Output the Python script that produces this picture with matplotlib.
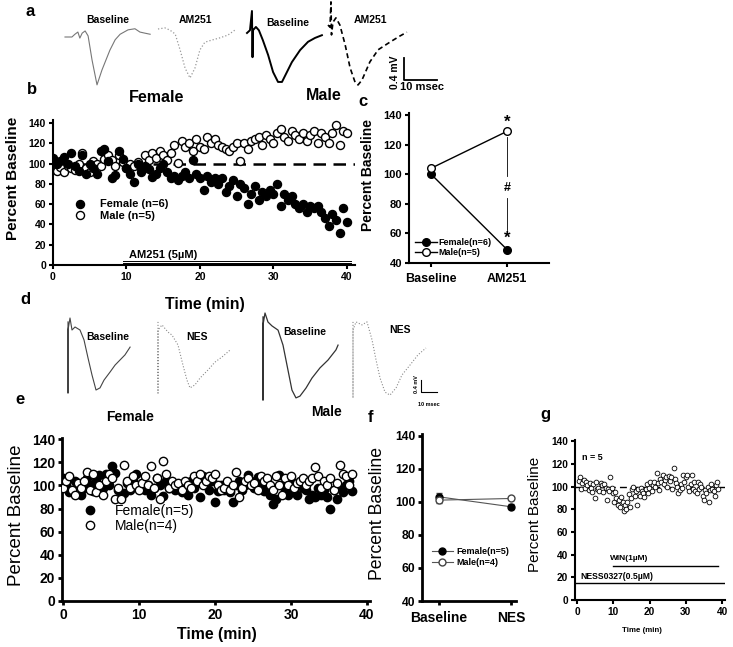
import numpy as np
import matplotlib
matplotlib.use('Agg')
import matplotlib.pyplot as plt

plt.rcParams['font.family'] = ['Liberation Sans', 'DejaVu Sans']

W, H = 733, 647

# ---- panel b : AM251, time course (every 0.5 min) ----
b_female = [106, 100, 103, 107, 100, 110, 98, 93, 108, 90, 100, 96, 90, 112, 114, 103, 86, 89,
            112, 105, 96, 90, 82, 100, 92, 98, 95, 87, 90, 96, 100, 92, 86, 88, 84, 88, 92, 86,
            104, 90, 86, 74, 88, 82, 86, 80, 86, 72, 78, 84, 68, 80, 76, 60, 70, 78, 64, 72, 68,
            74, 70, 80, 58, 70, 64, 68, 60, 56, 60, 52, 58, 56, 58, 52, 46, 38, 50, 44, 32, 56, 42]
b_male = [95, 93, 97, 92, 98, 96, 94, 100, 110, 96, 92, 103, 100, 98, 105, 108, 104, 98, 108,
          102, 96, 100, 98, 102, 96, 108, 104, 110, 106, 112, 108, 104, 110, 118, 101, 122, 116,
          120, 112, 124, 116, 114, 126, 120, 124, 118, 116, 114, 112, 116, 120, 103, 120, 114,
          122, 124, 126, 118, 128, 124, 120, 130, 134, 126, 122, 132, 128, 124, 130, 122, 128,
          132, 120, 130, 126, 120, 130, 138, 118, 132, 130]

# ---- panel c : summary ----
c_groups = ['Baseline', 'AM251']
c_female = [100, 49]
c_male = [104, 129]
c_err_f = [1.5, 1.5]
c_err_m = [1.5, 1.5]

# ---- panel e : NESS0327 time course (every 0.4 min) ----
e_female = [106, 100, 94, 96, 104, 100, 92, 98, 106, 100, 95, 104, 109, 98, 110, 100, 117, 111,
            96, 90, 93, 102, 96, 105, 110, 98, 102, 96, 100, 92, 98, 106, 100, 91, 104, 98, 102,
            96, 101, 94, 100, 92, 104, 98, 102, 90, 108, 100, 96, 104, 86, 95, 100, 96, 102, 94,
            86, 100, 104, 96, 100, 109, 104, 98, 107, 100, 95, 104, 92, 84, 88, 109, 100, 96, 92,
            104, 96, 92, 102, 98, 96, 88, 92, 90, 98, 92, 96, 90, 80, 96, 88, 98, 94, 100, 104, 95]
e_male = [98, 104, 108, 96, 92, 102, 98, 104, 112, 96, 110, 94, 100, 92, 104, 110, 106, 88, 98,
          88, 118, 104, 98, 108, 100, 96, 102, 108, 100, 117, 98, 106, 88, 121, 110, 98, 104, 100,
          102, 96, 104, 100, 98, 108, 104, 110, 100, 104, 108, 106, 110, 100, 96, 98, 104, 96, 100,
          112, 90, 98, 104, 106, 100, 102, 96, 108, 104, 106, 100, 96, 108, 100, 92, 106, 100, 108,
          98, 102, 104, 106, 100, 104, 106, 116, 108, 98, 104, 100, 106, 96, 102, 118, 110, 108,
          100, 110]

# ---- panel f : summary ----
f_groups = ['Baseline', 'NES']
f_female = [103, 97]
f_male = [101, 102]
f_err_f = [2.5, 1.5]
f_err_m = [2.0, 1.0]

# ---- panel g : WIN + NESS0327 (every ~1/3 min) ----
g_values = [105, 108, 98, 103, 106, 99, 104, 101, 97, 103, 99, 95, 102, 90, 104, 98, 99, 96,
            103, 101, 95, 102, 99, 88, 98, 96, 108, 99, 94, 86, 95, 90, 84, 88, 82, 91, 86, 78,
            84, 80, 86, 93, 82, 90, 98, 100, 92, 96, 84, 98, 92, 99, 96, 94, 91, 98, 102, 94, 99,
            104, 96, 101, 104, 100, 112, 103, 97, 107, 104, 110, 102, 106, 108, 100, 109, 105,
            108, 98, 116, 107, 103, 100, 94, 97, 102, 99, 110, 104, 108, 110, 100, 96, 102, 110,
            98, 104, 96, 94, 104, 98, 102, 100, 92, 88, 97, 94, 100, 86, 97, 102, 98, 96, 92, 101,
            104, 98]

# ---- traces (ms, mV) ----
a_fb_t = [0, 2.1, 3.0, 3.9, 4.5, 5.2, 6.1, 7.0, 8.2, 9.7, 11.2, 13.6, 15.2, 16.7, 19.1, 21.2, 22.7, 24.2, 25.8]
a_fb_v = [0, 0, 0.05, 0.09, -0.02, 0.07, 0.11, 0.02, -0.42, -0.87, -0.6, -0.24, -0.05, 0.05, 0.13, 0.15, 0.09, 0.07, 0.05]
a_fa_t = [0, 2.1, 3.6, 5.2, 6.7, 8.2, 9.7, 11.2, 12.7, 14.2, 16.4, 18.8, 21.2, 23.3]
a_fa_v = [0, 0.02, -0.02, -0.09, -0.38, -0.71, -0.89, -0.71, -0.38, -0.24, -0.2, -0.16, -0.11, -0.02]
a_mb_t = [0, 0.9, 1.5, 1.67, 1.8, 2.7, 3.6, 4.8, 6.4, 7.9, 9.4, 10.6, 12.1, 13.6, 16.1, 18.5, 20.6, 22.7]
a_mb_v = [0, 0.05, 0.4, -0.44, 0.05, 0.11, 0.05, -0.13, -0.4, -0.71, -0.89, -0.89, -0.71, -0.53, -0.31, -0.16, -0.09, -0.04]
a_ma_t = [0, 0.6, 0.9, 1.06, 1.5, 2.4, 3.6, 5.2, 6.7, 8.2, 9.1, 10.3, 12.7, 15.2, 18.8, 21.8, 23.9]
a_ma_v = [0, -0.04, 0.42, -0.18, 0.05, 0.13, 0, -0.36, -0.78, -1.04, -1.09, -1.0, -0.67, -0.45, -0.31, -0.2, -0.13]

d_fb_t = [0, 0, 0, 1.25, 2.5, 4.4, 7.5, 10, 12.5, 15, 17.5, 20, 22.5, 26.3, 29.4, 32.5, 35.6, 38.8]
d_fb_v = [0.27, -2.1, 0, 0.4, 0, 0.1, 0, -0.33, -0.93, -1.5, -2.0, -1.93, -1.67, -1.4, -1.17, -1.0, -0.83, -0.57]
d_fn_t = [0, 0, 0, 2.5, 6.25, 8.75, 12.5, 15.6, 18.1, 20, 23.1, 26.3, 31.3, 35.6, 40, 45]
d_fn_v = [0.27, -2.1, 0, 0.17, -0.07, -0.17, -0.5, -1.17, -1.67, -1.93, -1.83, -1.6, -1.33, -1.07, -0.9, -0.67]
d_mb_t = [0, 0, 0, 1.25, 3.1, 5.6, 9.4, 12.5, 15.6, 18.1, 20.6, 23.1, 26.9, 30.6, 35.6, 40.6, 45.6, 46.9]
d_mb_v = [0.27, -2.5, 0, 0.4, 0.1, -0.03, -0.17, -0.67, -1.5, -2.17, -2.43, -2.37, -2.1, -1.77, -1.43, -1.17, -0.83, -0.67]
d_mn_t = [0, 0, 0, 1.9, 5.6, 8.75, 11.9, 14.4, 16.9, 20, 23.1, 26.9, 30.6, 35.6, 40.6, 45.6]
d_mn_v = [0.27, -2.27, 0, 0.27, 0.17, 0.27, -0.33, -1.0, -1.6, -2.07, -2.17, -1.93, -1.5, -1.17, -0.83, -0.6]
scale_ms, scale_mv = 10, 0.4

fig = plt.figure(figsize=(W / 100, H / 100), dpi=100)


def rect(x0, y0, x1, y1):
    return [x0 / W, 1 - y1 / H, (x1 - x0) / W, (y1 - y0) / H]


def ftext(x, y, s, size, bold=True, **kw):
    fig.text(x / W, 1 - y / H, s, fontsize=size, fontweight='bold' if bold else 'normal',
             ha=kw.pop('ha', 'center'), va=kw.pop('va', 'center'), **kw)


def trace(x0, y0, t, v, sx, sy, **kw):
    pad = 3
    t = np.asarray(t); v = np.asarray(v)
    ax = fig.add_axes(rect(x0 - pad, y0 - v.max() * sy - pad, x0 + t.max() * sx + pad, y0 - v.min() * sy + pad))
    ax.set_xlim(-pad / sx, t.max() + pad / sx)
    ax.set_ylim(v.min() - pad / sy, v.max() + pad / sy)
    ax.axis('off')
    ax.plot(t, v, **kw)
    return ax


def scalebar(x0, y0, sx, sy, lw):
    ax = fig.add_axes(rect(x0 - 2, y0 - scale_mv * sy - 2, x0 + scale_ms * sx + 2, y0 + 2))
    ax.set_xlim(-2 / sx, scale_ms + 2 / sx)
    ax.set_ylim(-2 / sy, scale_mv + 2 / sy)
    ax.axis('off')
    ax.plot([0, 0, scale_ms], [scale_mv, 0, 0], color='black', lw=lw)


def style(ax, lw, size):
    for s in ['top', 'right']:
        ax.spines[s].set_visible(False)
    for s in ['left', 'bottom']:
        ax.spines[s].set_linewidth(lw)
    ax.tick_params(direction='out', length=3, width=lw, labelsize=size, pad=2)
    for lab in ax.get_xticklabels() + ax.get_yticklabels():
        lab.set_fontweight('bold')


# ---------------- panel a traces ----------------
sxa, sya = 3.3, 55
trace(65, 37, a_fb_t, a_fb_v, sxa, sya, color='#777777', lw=0.8)
trace(158, 29, a_fa_t, a_fa_v, sxa, sya, color='#999999', lw=0.9, ls=':')
trace(247, 33, a_mb_t, a_mb_v, sxa, sya, color='black', lw=1.4)
trace(328, 25, a_ma_t, a_ma_v, sxa, sya, color='black', lw=1.2, ls=(0, (3, 2)))
scalebar(404, 80, sxa, sya, 1.3)
ftext(108, 20, 'Baseline', 7.5)
ftext(195, 20, 'AM251', 7.5)
ftext(288, 23, 'Baseline', 7.5)
ftext(370, 20, 'AM251', 7.5)
ftext(395, 72, '0.4 mV', 7.5, rotation=90)
ftext(422, 87, '10 msec', 8)
ftext(30, 12, 'a', 12)

# ---------------- panel b ----------------
axb = fig.add_axes(rect(53, 120, 355, 265))
tb = np.arange(len(b_female)) * 0.5
axb.axhline(100, xmin=0, xmax=1, color='black', lw=1.8, ls=(0, (5, 3)), zorder=1)
axb.plot(tb, b_female, 'o', ms=5.8, mfc='black', mec='black', mew=1, label='Female (n=6)', zorder=3)
axb.plot(tb, b_male, 'o', ms=5.8, mfc='white', mec='black', mew=1, label='Male (n=5)', zorder=2)
axb.plot([9.5, 40.5], [2.3, 2.3], color='black', lw=0.7)
axb.plot([9.5, 40.5], [4.0, 4.0], color='black', lw=0.7)
axb.text(15, 10, 'AM251 (5\u00b5M)', fontsize=8, fontweight='bold', ha='center', va='center')
axb.set_xlim(0, 41.1)
axb.set_ylim(0, 143)
axb.set_xticks([0, 10, 20, 30, 40])
axb.set_yticks(range(0, 141, 20))
style(axb, 1.5, 7.5)
axb.legend(loc='center left', bbox_to_anchor=(0.071, 0.379), frameon=False, borderpad=0,
           borderaxespad=0, handlelength=1.0, handletextpad=1.3, labelspacing=0.1,
           prop={'size': 8, 'weight': 'bold'})
ftext(32, 90, 'b', 12)
ftext(157, 98, 'Female', 11.5)
ftext(324, 95, 'Male', 11.5)
ftext(13, 178, 'Percent Baseline', 11, rotation=90)
ftext(205, 305, 'Time (min)', 11.4)

# ---------------- panel c ----------------
axc = fig.add_axes(rect(409, 113.5, 549, 263))
xc = np.arange(len(c_groups))
axc.errorbar(xc, c_female, yerr=c_err_f, fmt='none', ecolor='black', lw=0.8, capsize=1.5)
axc.errorbar(xc, c_male, yerr=c_err_m, fmt='none', ecolor='black', lw=0.8, capsize=1.5)
axc.plot(xc, c_female, '-o', color='black', lw=1, ms=5.5, mfc='black', label='Female(n=6)', zorder=3)
axc.plot(xc, c_male, '-o', color='black', lw=1, ms=5.5, mfc='white', label='Male(n=5)', zorder=3)
axc.plot([1, 1], [125, 99], color='black', lw=0.6)
axc.plot([1, 1], [84, 62], color='black', lw=0.6)
axc.text(1, 135, '*', fontsize=12, fontweight='bold', ha='center', va='center')
axc.text(1, 57, '*', fontsize=12, fontweight='bold', ha='center', va='center')
axc.text(1, 91, '#', fontsize=9, fontweight='bold', ha='center', va='center')
axc.set_xlim(-0.29, 1.55)
axc.set_ylim(40, 141)
axc.set_xticks(xc)
axc.set_xticklabels(c_groups)
axc.set_yticks(range(40, 141, 20))
style(axc, 1.5, 8)
for lab in axc.get_xticklabels():
    lab.set_fontsize(9)
axc.tick_params(axis='x', pad=4)
axc.legend(loc='center left', bbox_to_anchor=(0.043, 0.104), frameon=False, borderpad=0,
           borderaxespad=0, handlelength=2.4, handletextpad=0.2, labelspacing=0.07,
           prop={'size': 6.5, 'weight': 'bold'})
ftext(363, 101, 'c', 12)
ftext(368, 175, 'Percent Baseline', 10, rotation=90)

# ---------------- panel d traces ----------------
sxd, syd = 1.6, 30
trace(68, 330, d_fb_t, d_fb_v, sxd, syd, color='#444444', lw=0.8)
trace(158, 330, d_fn_t, d_fn_v, sxd, syd, color='#8a8a8a', lw=0.8, ls=':')
trace(263, 325, d_mb_t, d_mb_v, sxd, syd, color='#333333', lw=0.9)
trace(353, 330, d_mn_t, d_mn_v, sxd, syd, color='#8a8a8a', lw=0.8, ls=':')
scalebar(421, 392, sxd, syd, 0.8)
ftext(108, 337, 'Baseline', 7.5)
ftext(197, 337, 'NES', 7.5)
ftext(305, 332, 'Baseline', 7.5)
ftext(400, 330, 'NES', 7.5)
ftext(417, 384, '0.4 mV', 4, rotation=90)
ftext(429, 405, '10 msec', 4)
ftext(25, 300, 'd', 12)

# ---------------- panel e ----------------
axe = fig.add_axes(rect(62, 438, 370, 601))
te_f = np.linspace(0, 38, len(e_female))
te_m = np.linspace(0, 38, len(e_male))
axe.plot(te_f, e_female, 'o', ms=6, mfc='black', mec='black', mew=1, label='Female(n=5)', zorder=2)
axe.plot(te_m, e_male, 'o', ms=6, mfc='white', mec='black', mew=1, label='Male(n=4)', zorder=3)
axe.set_xlim(-0.13, 40.4)
axe.set_ylim(0, 141)
axe.set_xticks([0, 10, 20, 30, 40])
axe.set_yticks(range(0, 141, 20))
style(axe, 2, 10)
axe.legend(loc='center left', bbox_to_anchor=(0.068, 0.506), frameon=False, borderpad=0,
           borderaxespad=0, handlelength=1.0, handletextpad=1.3, labelspacing=0.07,
           prop={'size': 10})
ftext(20, 400, 'e', 12)
ftext(130, 417, 'Female', 10)
ftext(327, 412, 'Male', 10)
ftext(17, 515, 'Percent Baseline', 13.5, bold=False, rotation=90)
ftext(217, 634, 'Time (min)', 11.4)

# ---------------- panel f ----------------
axf = fig.add_axes(rect(422, 434, 516, 601))
xf = np.arange(len(f_groups))
axf.errorbar(xf, f_female, yerr=f_err_f, fmt='none', ecolor='#444444', lw=0.8, capsize=2)
axf.errorbar(xf, f_male, yerr=f_err_m, fmt='none', ecolor='#444444', lw=0.8, capsize=2)
axf.plot(xf, f_female, '-o', color='#555555', lw=0.8, ms=5, mfc='black', mec='black', label='Female(n=5)', zorder=3)
axf.plot(xf, f_male, '-o', color='#555555', lw=0.8, ms=5, mfc='white', mec='#444444', label='Male(n=4)', zorder=3)
axf.set_xlim(-0.236, 1.07)
axf.set_ylim(40, 141)
axf.set_xticks(xf)
axf.set_xticklabels(f_groups)
axf.set_yticks(range(40, 141, 20))
style(axf, 2, 8.7)
for lab in axf.get_xticklabels():
    lab.set_fontsize(10)
axf.tick_params(axis='x', pad=4)
axf.legend(loc='center left', bbox_to_anchor=(0.106, 0.263), frameon=False, borderpad=0,
           borderaxespad=0, handlelength=2.3, handletextpad=0.45, labelspacing=0.15,
           prop={'size': 6.5, 'weight': 'bold'})
ftext(370, 418, 'f', 12)
ftext(378, 513, 'Percent Baseline', 12.7, bold=False, rotation=90)

# ---------------- panel g ----------------
axg = fig.add_axes(rect(575, 440, 725, 600))
tg = np.linspace(0.5, 39, len(g_values))
axg.axhline(100, color='black', lw=1, ls=(0, (5, 3)), zorder=1)
axg.plot(tg, g_values, 'o', ms=3.4, mfc='white', mec='black', mew=0.6, zorder=2)
axg.plot([10, 39], [30, 30], color='black', lw=1)
axg.plot([-0.5, 40.5], [15, 15], color='black', lw=1)
axg.text(9, 37, 'WIN(1\u00b5M)', fontsize=6, fontweight='bold', ha='left', va='center')
axg.text(1, 21, 'NESS0327(0.5\u00b5M)', fontsize=6.2, fontweight='bold', ha='left', va='center')
axg.text(1.5, 126, 'n = 5', fontsize=6.5, fontweight='bold', ha='left', va='center')
axg.set_xlim(-0.55, 40.8)
axg.set_ylim(0, 141)
axg.set_xticks([0, 10, 20, 30, 40])
axg.set_yticks(range(0, 141, 20))
style(axg, 1.5, 7.3)
ftext(545, 415, 'g', 12)
ftext(535, 514, 'Percent Baseline', 11, bold=False, rotation=90)
ftext(642, 630, 'Time (min)', 5.7)

fig.savefig('out.png', dpi=100)
